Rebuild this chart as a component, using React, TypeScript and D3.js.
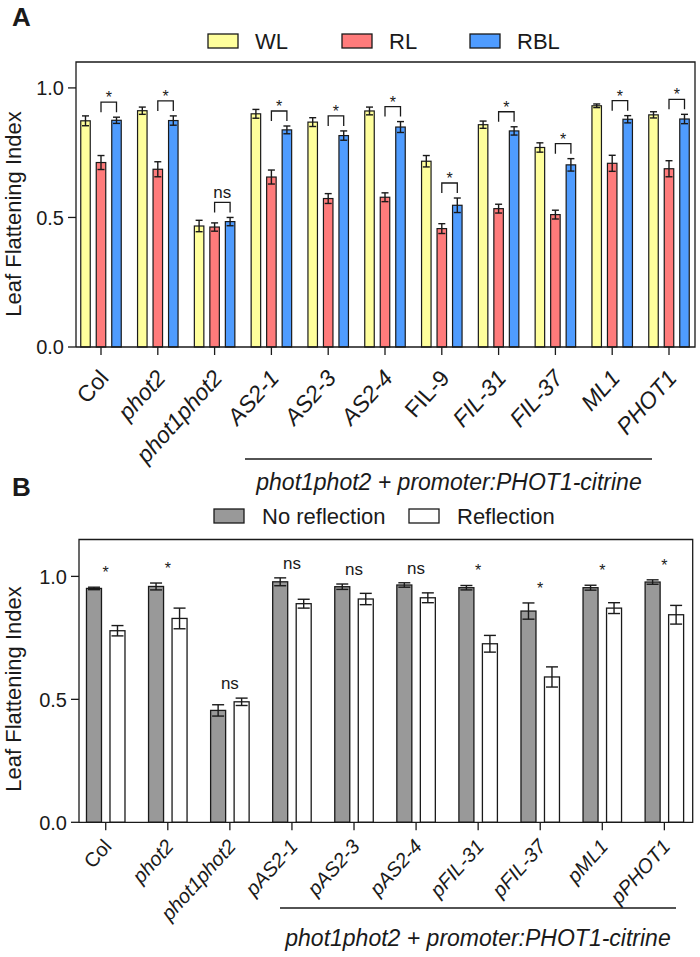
import React from "react";
import * as d3 from "d3";

// ---------- Panel A data ----------
const groupsA = ["Col", "phot2", "phot1phot2", "AS2-1", "AS2-3", "AS2-4", "FIL-9", "FIL-31", "FIL-37", "ML1", "PHOT1"];
const italicA = [false, true, true, true, true, true, false, true, true, true, true];
const seriesA = ["WL", "RL", "RBL"];
const wlMean = [0.873, 0.912, 0.467, 0.9, 0.868, 0.911, 0.717, 0.858, 0.77, 0.931, 0.896];
const wlErr = [0.019, 0.014, 0.022, 0.017, 0.017, 0.015, 0.022, 0.014, 0.018, 0.007, 0.012];
const rlMean = [0.712, 0.686, 0.463, 0.656, 0.573, 0.578, 0.457, 0.534, 0.511, 0.709, 0.688];
const rlErr = [0.027, 0.029, 0.016, 0.027, 0.019, 0.017, 0.019, 0.017, 0.017, 0.031, 0.031];
const rblMean = [0.875, 0.874, 0.484, 0.838, 0.816, 0.849, 0.547, 0.834, 0.703, 0.879, 0.88];
const rblErr = [0.012, 0.018, 0.016, 0.015, 0.018, 0.021, 0.028, 0.016, 0.024, 0.014, 0.018];
const sigA = ["*", "*", "ns", "*", "*", "*", "*", "*", "*", "*", "*"];
const yTicksA = [0, 0.5, 1.0];

// ---------- Panel B data ----------
const groupsB = ["Col", "phot2", "phot1phot2", "pAS2-1", "pAS2-3", "pAS2-4", "pFIL-31", "pFIL-37", "pML1", "pPHOT1"];
const italicB = [false, true, true, true, true, true, true, true, true, true];
const seriesB = ["No reflection", "Reflection"];
const noRefMean = [0.951, 0.959, 0.455, 0.978, 0.958, 0.965, 0.954, 0.859, 0.954, 0.977];
const noRefErr = [0.005, 0.014, 0.023, 0.016, 0.011, 0.009, 0.009, 0.033, 0.01, 0.009];
const refMean = [0.779, 0.829, 0.49, 0.889, 0.908, 0.913, 0.726, 0.591, 0.871, 0.844];
const refErr = [0.021, 0.042, 0.015, 0.018, 0.023, 0.02, 0.034, 0.041, 0.022, 0.038];
const sigB = ["*", "*", "ns", "ns", "ns", "ns", "*", "*", "*", "*"];
const yTicksB = [0, 0.5, 1.0];

const yTitle = "Leaf Flattening  Index";
const groupNote = "phot1phot2 + promoter:PHOT1-citrine";

const colorsA = ["#ffff9c", "#ff7b7b", "#4f9cff"];
const colorsB = ["#999999", "#ffffff"];

const FONT = "'Liberation Sans', Arial, Helvetica, sans-serif";
const INK = "#1a1a1a";
const LABEL_ANGLE = -48;

export default function App() {
  // Panel A geometry
  const aL = 76, aR = 695, aT = 62, aB = 347;
  const xA = d3.scaleBand<string>().domain(groupsA).range([72.6, 697.4]).paddingInner(0).paddingOuter(0);
  const yA = d3.scaleLinear().domain([0, 1.1]).range([aB, aT]);
  const offA = d3.scalePoint<string>().domain(seriesA).range([-15.5, 15.5]);
  const barWA = 9.5;
  const meansA = [wlMean, rlMean, rblMean];
  const errsA = [wlErr, rlErr, rblErr];

  // Panel B geometry
  const bL = 79, bR = 692.7, bT = 539.5, bB = 822.3;
  const xB = d3.scaleBand<string>().domain(groupsB).range([74.7, 695.4]).paddingInner(0).paddingOuter(0);
  const yB = d3.scaleLinear().domain([0, 1.15]).range([bB, bT]);
  const offB = d3.scalePoint<string>().domain(seriesB).range([-11.75, 11.75]);
  const barWB = 15;
  const meansB = [noRefMean, refMean];
  const errsB = [noRefErr, refErr];

  const cA = (g: string) => (xA(g) as number) + xA.bandwidth() / 2;
  const cB = (g: string) => (xB(g) as number) + xB.bandwidth() / 2;

  return (
    <svg width={700} height={957} style={{ position: "absolute", left: 0, top: 0, background: "#fff" }} fontFamily={FONT}>
      <rect x={0} y={0} width={700} height={957} fill="#fff" />
      {/* ================= Panel A ================= */}
      <text x={12} y={26} fontSize={26} fontWeight="bold" fill={INK}>A</text>
      {seriesA.map((s, i) => {
        const bx = [208, 342, 470][i];
        return (
          <g key={s}>
            <rect x={bx} y={34} width={30} height={14} fill={colorsA[i]} stroke={INK} strokeWidth={1.3} />
            <text x={bx + 47} y={49} fontSize={22} fill={INK}>{s}</text>
          </g>
        );
      })}
      {groupsA.map((g, gi) => (
        <g key={g}>
          {seriesA.map((s, si) => {
            const v = meansA[si][gi];
            const e = errsA[si][gi];
            const cx = cA(g) + (offA(s) as number);
            return (
              <g key={s}>
                <rect x={cx - barWA / 2} y={yA(v)} width={barWA} height={yA(0) - yA(v)} fill={colorsA[si]} stroke={INK} strokeWidth={1.2} />
                <line x1={cx} x2={cx} y1={yA(v - e)} y2={yA(v + e)} stroke={INK} strokeWidth={1.4} />
                <line x1={cx - 3.5} x2={cx + 3.5} y1={yA(v + e)} y2={yA(v + e)} stroke={INK} strokeWidth={1.4} />
                <line x1={cx - 3.5} x2={cx + 3.5} y1={yA(v - e)} y2={yA(v - e)} stroke={INK} strokeWidth={1.4} />
              </g>
            );
          })}
        </g>
      ))}
      {groupsA.map((g, gi) => {
        const x1 = cA(g) + (offA("RL") as number);
        const x2 = cA(g) + (offA("RBL") as number);
        const top = Math.min(yA(rlMean[gi] + rlErr[gi]), yA(rblMean[gi] + rblErr[gi]));
        const legB = top - 5;
        const brT = legB - 10;
        const isNs = sigA[gi] === "ns";
        return (
          <g key={"s" + g}>
            <path d={`M${x1},${legB}V${brT}H${x2}V${legB}`} fill="none" stroke={INK} strokeWidth={1.3} />
            <text x={(x1 + x2) / 2} y={isNs ? brT - 4 : brT + 1} textAnchor="middle" fontSize={isNs ? 17 : 16} fill={INK}>{sigA[gi]}</text>
          </g>
        );
      })}
      <path d={`M${aL},${aB}V${aT}H${aR}V${aB}H${aL}`} fill="none" stroke={INK} strokeWidth={1.3} />
      {yTicksA.map((t) => (
        <g key={t}>
          <line x1={aL - 8} x2={aL} y1={yA(t)} y2={yA(t)} stroke={INK} strokeWidth={1.3} />
          <text x={aL - 12} y={yA(t)} dy="0.36em" textAnchor="end" fontSize={20} fill={INK}>{d3.format(".1f")(t)}</text>
        </g>
      ))}
      {groupsA.map((g, gi) => (
        <g key={"t" + g}>
          <line x1={cA(g)} x2={cA(g)} y1={aB} y2={aB + 8} stroke={INK} strokeWidth={1.3} />
          <text transform={`translate(${cA(g) + 9},${aB + 32}) rotate(${LABEL_ANGLE})`} textAnchor="end" fontSize={23} fontStyle={italicA[gi] ? "italic" : "normal"} fill={INK}>{g}</text>
        </g>
      ))}
      <text transform={`translate(21,${214}) rotate(-90)`} textAnchor="middle" fontSize={22} fill={INK}>{yTitle}</text>
      <line x1={245} x2={652} y1={459} y2={459} stroke={INK} strokeWidth={1.3} />
      <text x={449} y={490} textAnchor="middle" fontSize={23} fontStyle="italic" fill={INK}>{groupNote}</text>

      {/* ================= Panel B ================= */}
      <text x={12} y={496} fontSize={26} fontWeight="bold" fill={INK}>B</text>
      {seriesB.map((s, i) => {
        const bx = [214, 409][i];
        return (
          <g key={s}>
            <rect x={bx} y={509} width={30} height={14} fill={colorsB[i]} stroke={INK} strokeWidth={1.3} />
            <text x={bx + 48} y={524} fontSize={22} fill={INK}>{s}</text>
          </g>
        );
      })}
      {groupsB.map((g, gi) => (
        <g key={g}>
          {seriesB.map((s, si) => {
            const v = meansB[si][gi];
            const e = errsB[si][gi];
            const cx = cB(g) + (offB(s) as number);
            return (
              <g key={s}>
                <rect x={cx - barWB / 2} y={yB(v)} width={barWB} height={yB(0) - yB(v)} fill={colorsB[si]} stroke={INK} strokeWidth={1.3} />
                <line x1={cx} x2={cx} y1={yB(v - e)} y2={yB(v + e)} stroke={INK} strokeWidth={1.4} />
                <line x1={cx - 6} x2={cx + 6} y1={yB(v + e)} y2={yB(v + e)} stroke={INK} strokeWidth={1.4} />
                <line x1={cx - 6} x2={cx + 6} y1={yB(v - e)} y2={yB(v - e)} stroke={INK} strokeWidth={1.4} />
              </g>
            );
          })}
        </g>
      ))}
      {groupsB.map((g, gi) => {
        const top = Math.min(yB(noRefMean[gi] + noRefErr[gi]), yB(refMean[gi] + refErr[gi]));
        const isNs = sigB[gi] === "ns";
        return (
          <text key={"s" + g} x={cB(g)} y={top - 9} textAnchor="middle" fontSize={isNs ? 17 : 16} fill={INK}>{sigB[gi]}</text>
        );
      })}
      <path d={`M${bL},${bB}V${bT}H${bR}V${bB}H${bL}`} fill="none" stroke={INK} strokeWidth={1.3} />
      {yTicksB.map((t) => (
        <g key={t}>
          <line x1={bL - 8} x2={bL} y1={yB(t)} y2={yB(t)} stroke={INK} strokeWidth={1.3} />
          <text x={bL - 12} y={yB(t)} dy="0.36em" textAnchor="end" fontSize={20} fill={INK}>{d3.format(".1f")(t)}</text>
        </g>
      ))}
      {groupsB.map((g, gi) => (
        <g key={"t" + g}>
          <line x1={cB(g)} x2={cB(g)} y1={bB} y2={bB + 8} stroke={INK} strokeWidth={1.3} />
          <text transform={`translate(${cB(g) + 7},${bB + 25}) rotate(${LABEL_ANGLE})`} textAnchor="end" fontSize={20} fontStyle={italicB[gi] ? "italic" : "normal"} fill={INK}>{g}</text>
        </g>
      ))}
      <text transform={`translate(21,${689}) rotate(-90)`} textAnchor="middle" fontSize={22} fill={INK}>{yTitle}</text>
      <line x1={280} x2={676} y1={908} y2={908} stroke={INK} strokeWidth={1.3} />
      <text x={478} y={946} textAnchor="middle" fontSize={23} fontStyle="italic" fill={INK}>{groupNote}</text>
    </svg>
  );
}
